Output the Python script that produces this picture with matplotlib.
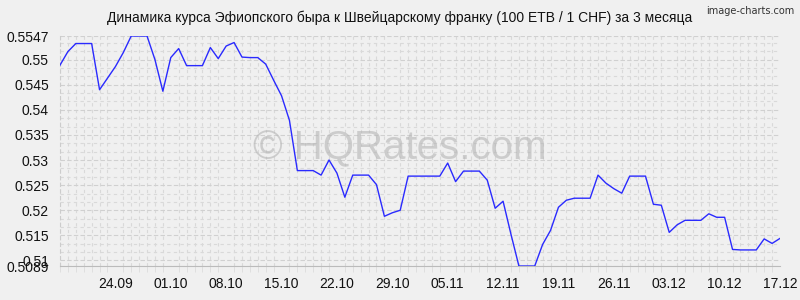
import numpy as np
import pandas as pd
import matplotlib
matplotlib.use('Agg')
import matplotlib.pyplot as plt
from matplotlib.ticker import MultipleLocator, FixedLocator

# daily rate, 100 ETB in CHF, 17.09 - 17.12
rates = [0.5489, 0.5516, 0.5532, 0.5532, 0.5532, 0.5440, 0.5463, 0.5486, 0.5514, 0.5547,
         0.5547, 0.5547, 0.5500, 0.5437, 0.5504, 0.5522, 0.5488, 0.5488, 0.5488, 0.5524,
         0.5502, 0.5527, 0.5534, 0.5505, 0.5504, 0.5504, 0.5491, 0.5459, 0.5428, 0.5379,
         0.5279, 0.5279, 0.5279, 0.5270, 0.5300, 0.5274, 0.5226, 0.5270, 0.5270, 0.5270,
         0.5251, 0.5188, 0.5195, 0.5200, 0.5268, 0.5268, 0.5268, 0.5268, 0.5268, 0.5294,
         0.5257, 0.5278, 0.5278, 0.5278, 0.5260, 0.5204, 0.5218, 0.5152, 0.5089, 0.5089,
         0.5089, 0.5132, 0.5160, 0.5206, 0.5220, 0.5224, 0.5224, 0.5224, 0.5270, 0.5254,
         0.5243, 0.5234, 0.5268, 0.5268, 0.5268, 0.5212, 0.5210, 0.5156, 0.5171, 0.5180,
         0.5180, 0.5180, 0.5193, 0.5186, 0.5186, 0.5122, 0.5121, 0.5121, 0.5121, 0.5143,
         0.5134, 0.5144]
dates = pd.date_range('2018-09-17', periods=len(rates), freq='D')

tick_dates = ['24.09', '01.10', '08.10', '15.10', '22.10', '29.10', '05.11',
              '12.11', '19.11', '26.11', '03.12', '10.12', '17.12']
y_ticks = [0.5089, 0.51, 0.515, 0.52, 0.525, 0.53, 0.535, 0.54, 0.545, 0.55, 0.5547]
y_labels = ['0.5089', '0.51', '0.515', '0.52', '0.525', '0.53', '0.535', '0.54', '0.545', '0.55', '0.5547']

title = 'Динамика курса Эфиопского быра к Швейцарскому франку (100 ETB / 1 CHF) за 3 месяца'

plt.rcParams['font.family'] = ['Liberation Sans', 'DejaVu Sans']
bg = '#f0f0f0'

fig = plt.figure(figsize=(8, 3), dpi=100, facecolor=bg)
ax = fig.add_axes([0.075, 0.1133, 0.9, 0.7667], facecolor=bg)

x = np.arange(len(rates))
ax.plot(x, rates, color='#2a2aff', lw=1.0, zorder=3)

ax.set_xlim(0, len(rates) - 1)
ax.set_ylim(0.5089, 0.5547)

# grid
ax.xaxis.set_minor_locator(MultipleLocator(1))
ax.yaxis.set_minor_locator(FixedLocator(np.arange(0.51, 0.5547, 0.005 / 3)))
ax.grid(which='minor', axis='both', color='#d9d9d9', lw=0.8, linestyle=(0, (3, 3)))
ax.grid(which='major', axis='y', color='#d0d0d0', lw=0.8, linestyle=(0, (4, 2)))

tick_pos = [list(dates.strftime('%d.%m')).index(t) for t in tick_dates]
ax.set_xticks(tick_pos)
ax.set_xticklabels(tick_dates)
ax.set_yticks(y_ticks)
ax.set_yticklabels(y_labels)
ax.tick_params(axis='both', which='major', length=0, labelsize=10, colors='#111111', pad=8)
ax.tick_params(axis='x', which='minor', length=4, color='#dcdcdc', width=0.6)
ax.tick_params(axis='y', which='minor', length=0)

for s in ['top', 'right']:
    ax.spines[s].set_visible(False)
ax.spines['left'].set_color('#cccccc')
ax.spines['left'].set_linestyle((0, (3, 3)))
ax.spines['bottom'].set_color('#bbbbbb')
ax.spines['left'].set_linewidth(0.8)
ax.spines['bottom'].set_linewidth(0.8)

fig.text(0.4995, 0.94, title, ha='center', va='center', fontsize=10, color='#111111')
fig.text(0.993, 0.965, 'image-charts.com', ha='right', va='center', fontsize=7,
         color='#333333', family=['Liberation Sans Narrow', 'DejaVu Sans'])
ax.text(0.472, 0.51, '© HQRates.com', transform=ax.transAxes, ha='center', va='center',
        fontsize=29, color='#b4b4b4', alpha=0.6, zorder=2)

fig.savefig('out.png', dpi=100, facecolor=bg)
